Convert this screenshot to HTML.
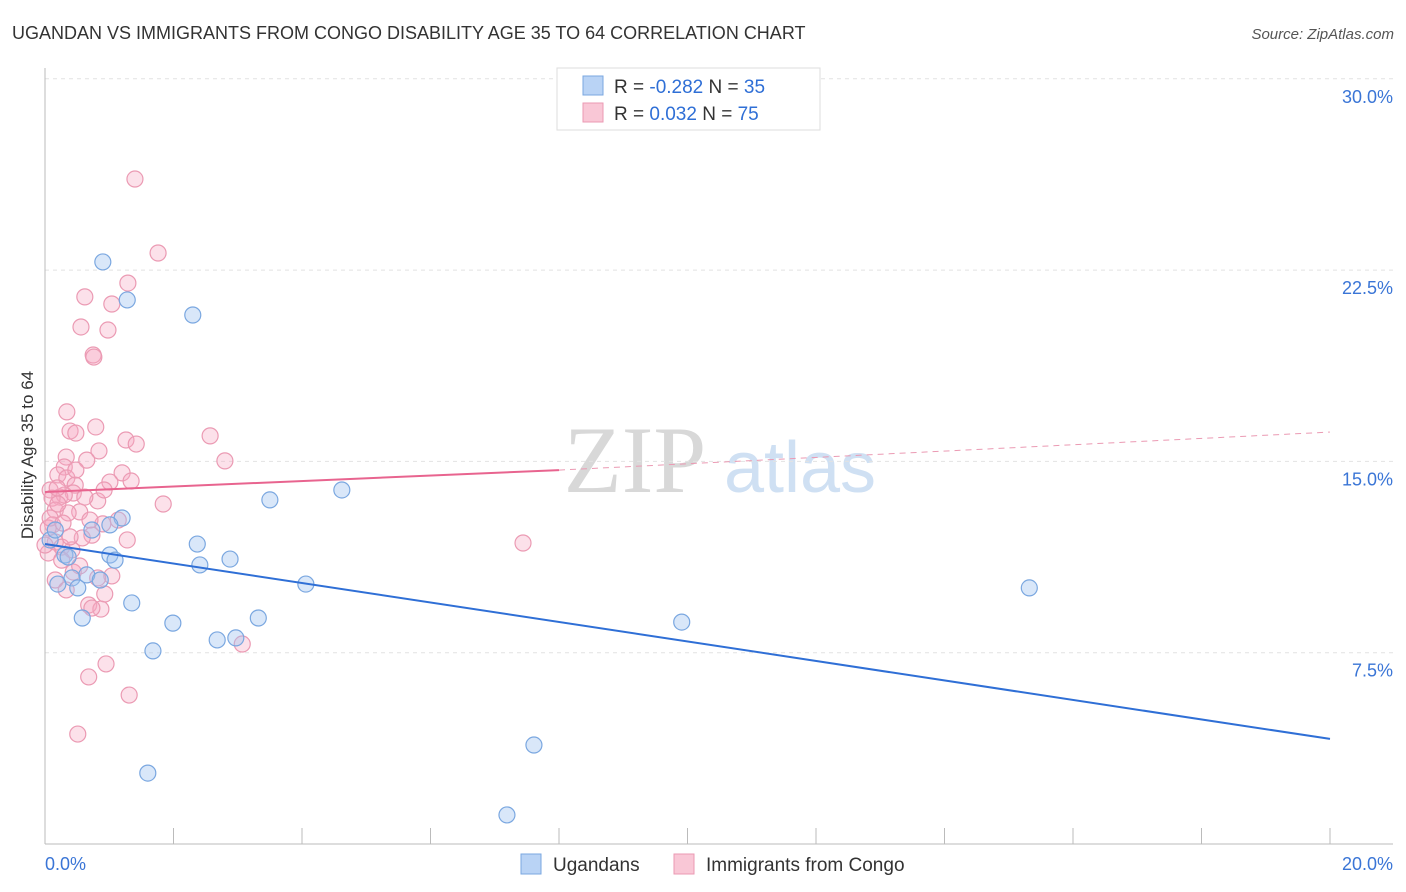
<!DOCTYPE html>
<html><head><meta charset="utf-8"><style>
body{margin:0;background:#fff;font-family:"Liberation Sans",sans-serif;}
#wrap{position:relative;width:1406px;height:892px;overflow:hidden;}
</style></head><body>
<div id="wrap">
<svg id="svg" width="1406" height="892" xmlns="http://www.w3.org/2000/svg">
<text x="12" y="39" font-size="18" fill="#333">UGANDAN VS IMMIGRANTS FROM CONGO DISABILITY AGE 35 TO 64 CORRELATION CHART</text>
<text x="1394" y="39" font-size="15" fill="#555" font-style="italic" text-anchor="end">Source: ZipAtlas.com</text>
<text x="635" y="492" font-size="95" fill="#d8d8d8" font-family="Liberation Serif" text-anchor="middle">ZIP</text>
<text x="800" y="492" font-size="72" fill="#cfe0f3" text-anchor="middle">atlas</text>
<text transform="translate(33,455) rotate(-90)" font-size="17" fill="#333" text-anchor="middle">Disability Age 35 to 64</text>
<g id="grid"></g><g id="marks"></g>
<g>
<rect x="557" y="68" width="263" height="62" fill="#fff" stroke="#ddd"/>
<rect x="583" y="76" width="20" height="19" fill="#b9d3f5" stroke="#7aa7e0"/>
<rect x="583" y="103" width="20" height="19" fill="#f9c7d6" stroke="#eb9ab3"/>
<text x="614" y="93" font-size="19" fill="#333">R = <tspan fill="#2f6fd6">-0.282</tspan>   N = <tspan fill="#2f6fd6">35</tspan></text>
<text x="614" y="120" font-size="19" fill="#333">R =  <tspan fill="#2f6fd6"> 0.032</tspan>   N = <tspan fill="#2f6fd6">75</tspan></text>
</g>
<g>
<rect x="521" y="854" width="20" height="20" fill="#b9d3f5" stroke="#7aa7e0"/>
<text x="553" y="871" font-size="19" fill="#333">Ugandans</text>
<rect x="674" y="854" width="20" height="20" fill="#f9c7d6" stroke="#eb9ab3"/>
<text x="706" y="871" font-size="19" fill="#333">Immigrants from Congo</text>
</g>
</svg>
</div>
<script>
const yTicks=[7.5,15,22.5,30];
const yTickLabels=["7.5%","15.0%","22.5%","30.0%"];
const xTicks=[0,2,4,6,8,10,12,14,16,18,20];
const xEndLabels=["0.0%","20.0%"];
const ugX=[0.90,1.28,2.30,3.50,4.62,1.20,1.01,0.73,0.08,0.16,2.37,2.88,1.01,0.31,1.09,2.41,0.65,0.86,0.42,0.20,0.51,4.06,1.35,0.58,1.99,3.32,2.97,2.68,1.68,9.91,15.32,7.61,1.60,7.19,0.36];
const ugY=[22.82,21.33,20.74,13.49,13.88,12.78,12.51,12.31,11.92,12.31,11.76,11.17,11.33,11.33,11.13,10.94,10.55,10.35,10.43,10.19,10.04,10.19,9.45,8.86,8.66,8.86,8.08,8.00,7.57,8.70,10.04,3.88,2.78,1.14,11.25];
const cgX=[1.40,1.76,0.62,1.29,1.04,0.56,0.98,0.75,0.76,0.34,0.79,0.39,0.48,2.57,1.26,1.42,0.84,0.33,0.65,2.80,0.30,0.20,1.20,0.34,1.01,1.34,0.47,0.08,0.44,0.23,0.30,0.11,0.82,1.84,0.16,0.54,0.36,0.90,0.12,0.05,0.73,0.58,1.28,0.16,0.26,0.42,7.44,0.05,0.26,0.44,1.04,0.82,0.16,0.93,0.68,0.87,3.07,0.95,0.68,1.31,0.51,0.20,0.08,0.62,0.28,0.70,1.14,0.39,0.00,0.54,0.33,0.73,0.19,0.92,0.48];
const cgY=[26.07,23.17,21.45,21.99,21.17,20.27,20.15,19.17,19.09,16.94,16.35,16.19,16.11,16.00,15.84,15.68,15.41,15.17,15.05,15.02,14.78,14.47,14.55,14.35,14.19,14.23,14.07,13.88,13.76,13.60,13.68,13.56,13.45,13.33,13.09,13.02,12.98,12.55,12.51,12.39,12.11,12.00,11.92,11.84,11.64,11.53,11.80,11.41,11.13,10.66,10.51,10.43,10.35,9.80,9.37,9.21,7.84,7.06,6.55,5.84,4.31,13.33,12.78,13.60,12.58,12.70,12.70,12.04,11.72,10.90,9.96,9.25,13.96,13.88,14.66];
const ugTrend=[11.76,4.12];
const cgTrend=[13.80,14.66,16.15];
const cgTrendX=[0,8.0,20];
const X=v=>45+v*64.25, Y=v=>844-v*25.507;
const NS="http://www.w3.org/2000/svg";
function mk(t,a,p){const e=document.createElementNS(NS,t);for(const k in a)e.setAttribute(k,a[k]);p.appendChild(e);return e;}
const g=document.getElementById('grid'), m=document.getElementById('marks');
yTicks.forEach((v,i)=>{
 const l=mk('line',{x1:45,x2:1393,y1:Y(v),y2:Y(v),stroke:'#e2e2e2','stroke-dasharray':'4,4'},g);
 
 
 const t=mk('text',{x:1393,y:Y(v)+24,'font-size':18,fill:'#3a75d6','text-anchor':'end'},g);t.textContent=yTickLabels[i];
 
 
});
const ax=mk('line',{x1:45,x2:45,y1:68,y2:844,stroke:'#bbb'},g);


const bx=mk('line',{x1:45,x2:1393,y1:844,y2:844,stroke:'#bbb'},g);


xTicks.forEach(v=>{const l=mk('line',{x1:X(v),x2:X(v),y1:828,y2:844,stroke:'#bbb'},g);
 
 });
[[0,'start'],[20,'end']].forEach((d,i)=>{const t=mk('text',{x:i?1393:45,y:870,'font-size':18,fill:'#3a75d6','text-anchor':d[1]},g);t.textContent=xEndLabels[i];
 
 });
cgX.forEach((v,i)=>{const c=mk('circle',{cx:X(v),cy:Y(cgY[i]),r:8,fill:'rgba(246,170,195,0.35)',stroke:'#eb9ab3','stroke-width':1.2},m);
 
 });
ugX.forEach((v,i)=>{const c=mk('circle',{cx:X(v),cy:Y(ugY[i]),r:8,fill:'rgba(160,195,240,0.4)',stroke:'#7aa7e0','stroke-width':1.2},m);
 
 });
const ul=mk('line',{x1:X(0),y1:Y(ugTrend[0]),x2:X(20),y2:Y(ugTrend[1]),stroke:'#2f6fd6','stroke-width':2},m);


const cl=mk('line',{x1:X(cgTrendX[0]),y1:Y(cgTrend[0]),x2:X(cgTrendX[1]),y2:Y(cgTrend[1]),stroke:'#e8648f','stroke-width':2},m);


const cd=mk('line',{x1:X(cgTrendX[1]),y1:Y(cgTrend[1]),x2:X(cgTrendX[2]),y2:Y(cgTrend[2]),stroke:'#eb9ab3','stroke-width':1,'stroke-dasharray':'6,5'},m);


</script>
</body></html>
